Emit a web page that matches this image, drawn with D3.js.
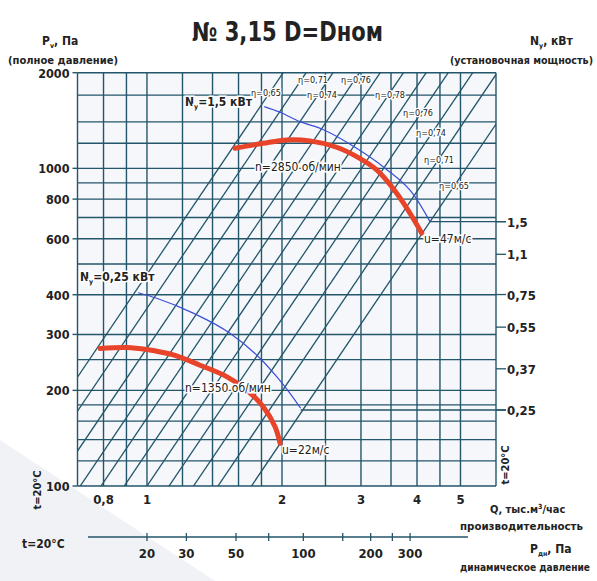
<!DOCTYPE html>
<html><head><meta charset="utf-8">
<script src="https://cdn.jsdelivr.net/npm/d3@7/dist/d3.min.js"></script>
<style>
body{margin:0;background:#fff;}
text{font-family:"DejaVu Sans Condensed","Liberation Sans Narrow",sans-serif;fill:#222;}
</style></head>
<body>
<svg id="chart" width="597" height="581"></svg>
<script>
// ---------------- data ----------------
const qGrid = [0.7,0.8,0.9,1,1.2,1.4,1.6,1.8,2,2.5,3,3.5,4,4.5,5,6];
const pGrid = [100,120,140,160,180,200,250,300,400,500,600,700,800,900,1000,1200,1400,1700,2000];
const qTicks = [0.8,1,2,3,4,5];
const qTickLabels = ["0,8","1","2","3","4","5"];
const pTicks = [100,200,300,400,600,800,1000,2000];
const nTicks = [1.5,1.1,0.75,0.55,0.37,0.25];
const nTickLabels = ["1,5","1,1","0,75","0,55","0,37","0,25"];
const pdTicks = [20,30,50,70,100,150,200,250,300];
const pdTickLabels = ["20","30","50","","100","","200","","300"];
// diagonal (constant-efficiency) lines P = 100*(Q/q0)^diagExp ; q0 = flow at P=100 Pa
const diagQ0 = [0.48,0.54,0.62,0.71,0.79,0.89,1.0,1.12,1.27,1.44,1.71];
const diagExp = 2.09;
// fan curves
const n2850Q = [1.571,1.814,2.049,2.309,2.648,2.935,3.252,3.603,3.858,4.098];
const n2850P = [1157,1199,1229,1220,1165,1088,988,835,722,625];
const n1350Q = [0.786,0.901,0.998,1.145,1.313,1.505,1.668,1.816,1.930,1.98];
const n1350P = [271,273,269,258.5,240,221,200.6,177.7,153.7,136.3];
// constant power lines
const pw15Q = [1.826,1.979,2.193,2.453,2.909,3.394,3.959,4.276];
const pw15P = [1564,1502,1403,1330,1165,1001,815,679.5];
const pw025Q = [0.956,1.051,1.268,1.531,1.786,1.946,2.084,2.201];
const pw025P = [406,390,350,302.6,252.5,220.9,195.8,175.7];
// efficiency labels
const etaText = ["η=0,65","η=0,71","η=0,74","η=0,76","η=0,78","η=0,76","η=0,74","η=0,71","η=0,65"];
const etaQ = [1.842,2.345,2.456,2.924,3.482,4.02,4.298,4.478,4.836];
const etaP = [1728,1898,1703,1898,1703,1494,1293,1063,880];

// ---------------- drawing ----------------
const svg = d3.select("#chart");
const x = d3.scaleLog().domain([0.7,6]).range([77.5,496]);
const y = d3.scaleLog().domain([100,2000]).range([486,72.7]);
const yN = d3.scaleLog().domain([0.25,1.5]).range([410,221.7]);
const xPd = d3.scaleLog().domain([20,300]).range([x(1),x(3.86)]);
const gridCol = "#23566a";

svg.append("path").attr("d","M0,440 L215,581 L0,581 Z").attr("fill","#f1f2f5");
svg.append("rect").attr("x",x(0.7)).attr("y",y(2000)).attr("width",x(6)-x(0.7)).attr("height",y(100)-y(2000))
  .attr("fill","#eef2f8").attr("opacity",0.6);

svg.append("clipPath").attr("id","plot").append("rect")
  .attr("x",x(0.7)).attr("y",y(2000)).attr("width",x(6)-x(0.7)).attr("height",y(100)-y(2000));

const g = svg.append("g");
g.selectAll("line.v").data(qGrid).join("line")
  .attr("x1",d=>x(d)).attr("x2",d=>x(d)).attr("y1",y(2000)).attr("y2",y(100))
  .attr("stroke",gridCol).attr("stroke-width",1.4);
g.selectAll("line.h").data(pGrid).join("line").attr("class","h")
  .attr("x1",x(0.7)).attr("x2",x(6)).attr("y1",d=>y(d)).attr("y2",d=>y(d))
  .attr("stroke",gridCol).attr("stroke-width",1.4);
svg.selectAll("line.yt").data(pTicks).join("line").attr("class","yt")
  .attr("x1",x(0.7)-5).attr("x2",x(0.7)).attr("y1",d=>y(d)).attr("y2",d=>y(d)).attr("stroke",gridCol).attr("stroke-width",1.4);

// diagonal lines through the scales
const qAt = (q0,p)=> q0*Math.pow(p/100,1/diagExp);
const dg = svg.append("g").attr("clip-path","url(#plot)");
dg.selectAll("line").data(diagQ0).join("line")
  .attr("x1",d=>x(qAt(d,60))).attr("y1",y(60))
  .attr("x2",d=>x(qAt(d,2000))).attr("y2",y(2000))
  .attr("stroke",gridCol).attr("stroke-width",1.3);

const line = d3.line().x(d=>x(d[0])).y(d=>y(d[1])).curve(d3.curveMonotoneX);
svg.append("path").datum(d3.zip(pw15Q,pw15P)).attr("d",line).attr("fill","none").attr("stroke","#3b4fd6").attr("stroke-width",1.2);
svg.append("path").datum(d3.zip(pw025Q,pw025P)).attr("d",line).attr("fill","none").attr("stroke","#3b4fd6").attr("stroke-width",1.2);
svg.append("line").attr("x1",x(pw15Q[pw15Q.length-1])).attr("x2",x(6)+10).attr("y1",yN(1.5)).attr("y2",yN(1.5)).attr("stroke",gridCol).attr("stroke-width",1.3);
svg.append("line").attr("x1",x(pw025Q[pw025Q.length-1])).attr("x2",x(6)+10).attr("y1",yN(0.25)).attr("y2",yN(0.25)).attr("stroke",gridCol).attr("stroke-width",1.3);
svg.selectAll("line.nt").data(nTicks).join("line").attr("class","nt")
  .attr("x1",x(6)).attr("x2",x(6)+10).attr("y1",d=>yN(d)).attr("y2",d=>yN(d)).attr("stroke",gridCol).attr("stroke-width",1.3);
svg.selectAll("text.nt").data(nTicks).join("text").attr("class","nt")
  .attr("x",x(6)+11).attr("y",d=>yN(d)+5).text((d,i)=>nTickLabels[i])
  .attr("font-size",13).attr("font-weight","bold");

const cl = d3.line().x(d=>x(d[0])).y(d=>y(d[1])).curve(d3.curveCatmullRom);
svg.append("path").datum(d3.zip(n2850Q,n2850P)).attr("d",cl)
  .attr("fill","none").attr("stroke","#e8442a").attr("stroke-width",5).attr("stroke-linecap","round");
svg.append("path").datum(d3.zip(n1350Q,n1350P)).attr("d",cl)
  .attr("fill","none").attr("stroke","#e8442a").attr("stroke-width",5).attr("stroke-linecap","round");

svg.selectAll("text.yt").data(pTicks).join("text").attr("class","yt")
  .attr("x",x(0.7)-8).attr("y",d=>y(d)+5).attr("text-anchor","end").text(d=>d)
  .attr("font-size",12.5).attr("font-weight","bold");
svg.selectAll("text.xt").data(qTicks).join("text").attr("class","xt")
  .attr("x",d=>x(d)).attr("y",504).attr("text-anchor","middle").text((d,i)=>qTickLabels[i])
  .attr("font-size",13).attr("font-weight","bold");

svg.append("line").attr("x1",88).attr("x2",468).attr("y1",537).attr("y2",537).attr("stroke",gridCol).attr("stroke-width",1.4);
svg.selectAll("line.pd").data(pdTicks).join("line").attr("class","pd")
  .attr("x1",d=>xPd(d)).attr("x2",d=>xPd(d)).attr("y1",533).attr("y2",541).attr("stroke",gridCol).attr("stroke-width",1.3);
svg.selectAll("text.pd").data(pdTicks).join("text").attr("class","pd")
  .attr("x",d=>xPd(d)).attr("y",558).attr("text-anchor","middle").text((d,i)=>pdTickLabels[i])
  .attr("font-size",13).attr("font-weight","bold");

svg.selectAll("text.eta").data(etaText).join("text").attr("class","eta")
  .attr("x",(d,i)=>x(etaQ[i])).attr("y",(d,i)=>y(etaP[i])+3).text(d=>d)
  .attr("font-size",9).attr("text-anchor","middle")
  .attr("stroke","#fff").attr("stroke-width",2.5).attr("paint-order","stroke");

function t(txt,xx,yy,size,opts={}){
  const e=svg.append("text").attr("x",xx).attr("y",yy).attr("font-size",size).attr("font-weight",opts.w||"bold")
    .attr("text-anchor",opts.a||"start");
  if(opts.len) e.attr("textLength",opts.len).attr("lengthAdjust","spacingAndGlyphs");
  if(opts.rot) e.attr("transform",`rotate(${opts.rot},${xx},${yy})`);
  if(opts.halo) e.attr("stroke","#fff").attr("stroke-width",3).attr("paint-order","stroke");
  e.text(txt); return e;
}
t("№ 3,15 D=Dном",192,41,26,{len:191});
const p1=t("P",42,45,12); p1.append("tspan").attr("font-size",7).attr("dy",3).text("v"); p1.append("tspan").attr("dy",-3).text(", Па");
t("(полное давление)",8,64,11,{len:110});
const n1=t("N",530,45,12); n1.append("tspan").attr("font-size",7).attr("dy",3).text("y"); n1.append("tspan").attr("dy",-3).text(", кВт");
t("(установочная мощность)",450,64,11,{len:143});
const n15=t("N",185,106,12,{halo:1}); n15.append("tspan").attr("font-size",7).attr("dy",3).text("y"); n15.append("tspan").attr("dy",-3).text("=1,5 кВт");
const n025=t("N",80,281,12,{halo:1}); n025.append("tspan").attr("font-size",7).attr("dy",3).text("y"); n025.append("tspan").attr("dy",-3).text("=0,25 кВт");
t("n=2850 об/мин",255,171,12,{w:"normal",halo:1});
t("n=1350 об/мин",185,392,12,{w:"normal",halo:1});
t("u=47м/с",424,243,12,{w:"normal",halo:1});
t("u=22м/с",282,454,12,{w:"normal",halo:1});
const q1=t("Q, тыс.м",490,513,11); q1.append("tspan").attr("font-size",7).attr("dy",-4).text("3"); q1.append("tspan").attr("dy",4).text("/час");
t("производительность",460,530,11,{len:123});
t("t=20°C",22,548,12);
const pd=t("P",530,553,12); pd.append("tspan").attr("font-size",7).attr("dy",3).text("дн"); pd.append("tspan").attr("dy",-3).text(", Па");
t("динамическое давление",460,571,10.5,{len:130});
t("t=20°C",41,490,11,{a:"middle",rot:-90});
t("t=20°C",509,465,11,{a:"middle",rot:-90});
</script>
</body></html>
